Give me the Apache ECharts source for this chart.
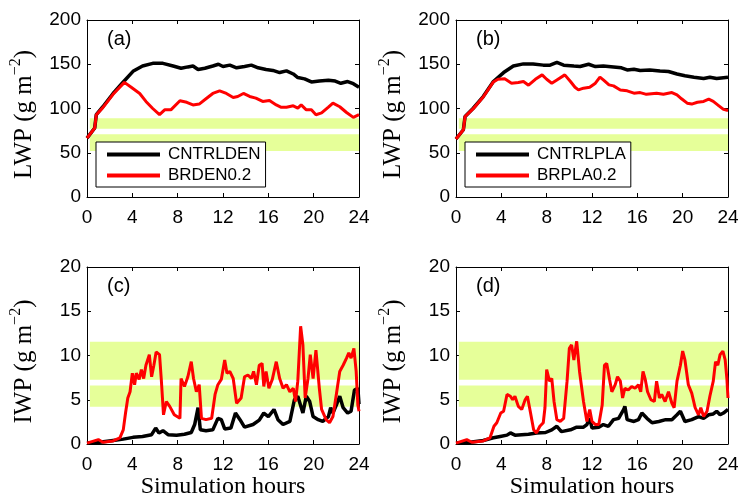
<!DOCTYPE html>
<html><head><meta charset="utf-8">
<script src="https://cdn.jsdelivr.net/npm/echarts@6/dist/echarts.min.js"></script>
<style>html,body{margin:0;padding:0;background:#fff}#c{width:740px;height:495px}</style>
</head><body><div id="c"></div><script>
// ---------- data ----------
const hourTicks = [0, 4, 8, 12, 16, 20, 24];
const lwpBands = [[52, 71], [77, 89]];
const iwpBands = [[4.2, 6.6], [7.25, 11.55]];
const bandStartHour = 0.25;

const lwpCntrlDen = [[0,66.5],[0.68,78],[0.82,93],[1.4,102],[2.3,117],[3.2,130],[4.06,142],[4.9,148],[5.8,151],[6.7,151],[7.6,148],[8.3,145.5],[8.9,147],[9.35,148],[9.8,144],[10.4,145.5],[11.1,148],[11.6,150],[12,147.5],[12.6,149],[13.2,146],[13.9,147.5],[14.5,149],[15.1,146],[15.8,144],[16.4,143],[17,140.6],[17.6,142.5],[18.2,139],[18.6,135],[19.2,133.5],[19.8,130],[20.5,131],[21.3,132],[21.9,131],[22.4,128.5],[23,130.5],[23.5,128],[24,124]];
const lwpBrDen = [[0,66.5],[0.68,78],[0.82,93],[1.4,101],[2.3,116],[3.3,129.5],[3.9,124],[4.65,117],[5.2,108],[5.8,100],[6.4,93],[6.85,98.5],[7.4,98.5],[8.2,108.7],[8.8,107],[9.35,104],[9.9,105],[10.5,111],[11.1,117],[11.7,120],[12.3,117],[12.9,112.5],[13.3,113.6],[13.8,117],[14.35,113.6],[14.9,111.7],[15.5,108],[16.1,109],[16.7,104],[17.1,101.5],[17.6,101.5],[18.2,103],[18.6,100.4],[18.9,104],[19.35,98.5],[19.8,98.5],[20.2,93],[20.7,95],[21.3,101.5],[21.7,106],[22.3,102],[22.9,95.5],[23.5,90],[24,93]];
const lwpCntrlPla = [[0,65.5],[0.65,76],[0.8,91],[1.5,100],[2.4,113.5],[3.3,130.5],[4.2,140.6],[5.06,148],[5.95,150.4],[6.8,150.4],[7.7,149],[8.3,149],[8.9,152],[9.5,149],[10.4,148],[10.95,147.4],[11.7,150],[12.3,147.4],[13,148],[13.9,147],[14.6,146],[15.1,143.6],[15.7,144.4],[16.25,143],[17.1,143.6],[18,142.5],[18.75,141.8],[19.5,139],[20.2,137],[21,135.4],[21.85,134],[22.4,135.4],[23,134],[24,135.4]];
const lwpBrPla = [[0,65.5],[0.65,76],[0.8,91],[1.5,99.5],[2.4,113],[3.3,130],[3.7,133],[4.3,133.5],[4.9,128.6],[5.5,129.3],[5.95,130.5],[6.4,126.3],[7,133],[7.6,138],[8,133],[8.45,128.6],[8.9,132.3],[9.6,138],[10.1,130.5],[10.5,124],[10.8,121],[11.25,123],[11.8,124],[12.3,128.6],[12.7,135.4],[13,132.3],[13.5,126.7],[13.9,125.6],[14.5,121],[15.1,120],[15.7,117.3],[16.25,118],[16.8,116],[17.7,117.3],[18.3,116],[19.05,118],[19.5,115.4],[19.9,111],[20.4,106],[20.8,105],[21.3,107],[21.85,108],[22.3,110.5],[22.7,108],[23.2,103],[23.6,99],[24,97.8]];

const iwpCntrlDen = [[0,0.1],[1.1,0.2],[2.3,0.4],[3.2,0.55],[4.06,0.75],[4.9,0.85],[5.7,1.05],[6.06,1.8],[6.35,1.25],[6.7,1.5],[7.15,1.05],[7.9,1.0],[8.6,1.1],[9.2,1.3],[9.5,2.2],[9.8,4.1],[10,1.6],[10.5,1.5],[11.1,1.6],[11.55,2.9],[11.85,2.75],[12.15,1.7],[12.7,1.8],[13.1,3.5],[13.5,2.75],[13.9,1.9],[14.65,2.2],[15.2,2.7],[15.6,3.5],[16,3.1],[16.5,3.9],[16.85,2.75],[17.3,2.2],[17.9,2.55],[18.3,5.0],[18.6,5.4],[19.05,3.5],[19.35,5.4],[19.65,4.8],[19.95,3.1],[20.4,2.75],[20.8,2.55],[21.3,3.1],[21.5,4.1],[21.7,3.5],[22,4.4],[22.3,5.4],[22.6,4.1],[23,3.5],[23.3,3.7],[23.6,6.1],[23.9,6.3],[24,4.5]];
const iwpBrDen = [[0,0.1],[1.0,0.5],[1.4,0.2],[2.3,0.35],[2.9,0.7],[3.2,1.6],[3.4,3.5],[3.6,5.2],[3.8,5.9],[4.0,8.0],[4.2,6.7],[4.35,8.0],[4.6,7.3],[4.8,8.4],[5.0,7.4],[5.2,8.9],[5.5,10.1],[5.7,7.6],[5.9,8.9],[6.1,10.4],[6.4,10.1],[6.55,7.4],[6.75,3.3],[7.0,4.8],[7.3,4.25],[7.7,3.3],[8.2,2.9],[8.3,7.4],[8.6,6.5],[8.9,7.6],[9.2,9.3],[9.4,7.4],[9.65,5.9],[9.9,6.7],[10.1,2.9],[10.5,2.75],[11,2.9],[11.3,5.6],[11.55,6.7],[11.85,7.3],[12.15,9.5],[12.35,8.0],[12.6,8.2],[12.9,7.4],[13.2,4.6],[13.6,5.2],[13.9,7.6],[14.2,7.8],[14.5,7.4],[14.7,8.2],[14.95,6.7],[15.2,8.9],[15.45,9.1],[15.6,6.5],[15.8,8.2],[16.05,6.3],[16.35,7.3],[16.7,9.3],[17,7.4],[17.3,6.3],[17.6,6.7],[17.9,5.9],[18.2,6.3],[18.4,4.8],[18.6,7.1],[18.85,13.3],[19.05,11.2],[19.25,5.2],[19.5,7.4],[19.7,10.1],[19.95,7.4],[20.2,10.6],[20.5,6.3],[20.7,3.9],[21.1,2.75],[21.4,2.4],[21.7,3.1],[22,5.6],[22.3,8.2],[22.6,8.9],[22.9,9.7],[23.1,10.3],[23.3,9.7],[23.55,10.8],[23.75,8.2],[23.9,4.4],[24,3.7]];
const iwpCntrlPla = [[0,0.1],[1.24,0.2],[2.4,0.4],[3.3,0.7],[3.9,0.85],[4.5,1.0],[4.8,1.25],[5.2,1.0],[5.8,1.05],[6.4,1.1],[7.1,1.25],[7.9,1.3],[8.45,1.6],[8.9,2.0],[9.3,1.4],[10.1,1.6],[10.65,1.9],[11.25,1.9],[11.55,2.2],[11.8,2.9],[12,1.8],[12.6,1.9],[13,2.2],[13.45,2.0],[13.9,2.75],[14.35,2.9],[14.8,3.9],[14.9,4.25],[15.1,2.75],[15.7,2.55],[16.1,2.75],[16.4,3.5],[16.85,2.9],[17.3,2.4],[17.9,2.55],[18.5,2.75],[19.05,2.75],[19.5,3.3],[19.8,3.7],[20.2,2.55],[20.8,2.75],[21.4,3.1],[21.85,2.9],[22.3,3.3],[22.7,3.4],[23,3.7],[23.3,3.3],[23.6,3.5],[24,3.9]];
const iwpBrPla = [[0,0.1],[0.95,0.5],[1.4,0.2],[2.4,0.35],[3.0,0.7],[3.35,2.0],[3.6,2.4],[3.95,3.5],[4.2,3.7],[4.3,3.5],[4.5,5.6],[4.8,5.4],[5.0,5.0],[5.2,5.4],[5.5,4.25],[5.8,3.9],[6.1,5.0],[6.3,5.4],[6.55,3.7],[6.85,1.6],[7.1,1.25],[7.4,2.0],[7.7,2.4],[7.85,4.1],[8.0,8.4],[8.25,7.1],[8.45,7.4],[8.65,4.8],[8.9,2.75],[9.2,2.55],[9.5,2.9],[9.8,7.1],[10.0,10.8],[10.2,11.2],[10.4,9.5],[10.65,11.6],[10.9,8.2],[11.25,4.8],[11.55,2.55],[11.8,3.9],[12,2.55],[12.3,2.2],[12.6,2.2],[12.9,4.4],[13.1,8.9],[13.3,9.1],[13.55,7.3],[13.75,5.9],[14.05,6.7],[14.25,7.6],[14.5,7.1],[14.7,5.2],[14.9,6.3],[15.2,6.1],[15.5,6.5],[15.8,6.3],[16.1,6.7],[16.3,5.9],[16.5,8.2],[16.7,7.3],[16.9,5.9],[17.2,5.0],[17.5,4.8],[17.7,7.1],[17.95,5.2],[18.15,5.6],[18.45,4.8],[18.75,5.9],[19.05,4.6],[19.25,4.1],[19.5,7.1],[19.8,8.9],[20.0,10.5],[20.2,9.5],[20.5,6.7],[20.8,5.75],[21.1,4.1],[21.4,3.3],[21.6,4.1],[21.85,3.1],[22.15,3.7],[22.4,5.4],[22.7,7.1],[22.9,9.3],[23.1,8.9],[23.3,10.1],[23.55,10.5],[23.75,9.5],[23.9,7.4],[24,5.2]];

// ---------- layout / styles ----------
const FONT = 'Liberation Sans';
const SERIF = 'Liberation Serif';
const bandColor = '#e6ff99';
const panels = [
  {left: 87, top: 20, max: 200, step: 50, bands: lwpBands, label: '(a)', k: lwpCntrlDen, r: lwpBrDen, kn: 'CNTRLDEN', rn: 'BRDEN0.2', yname: 'LWP', legend: true},
  {left: 456, top: 20, max: 200, step: 50, bands: lwpBands, label: '(b)', k: lwpCntrlPla, r: lwpBrPla, kn: 'CNTRLPLA', rn: 'BRPLA0.2', yname: 'LWP', legend: true},
  {left: 87, top: 267, max: 20, step: 5, bands: iwpBands, label: '(c)', k: iwpCntrlDen, r: iwpBrDen, kn: 'CNTRLDEN IWP', rn: 'BRDEN0.2 IWP', yname: 'IWP', xname: true},
  {left: 456, top: 267, max: 20, step: 5, bands: iwpBands, label: '(d)', k: iwpCntrlPla, r: iwpBrPla, kn: 'CNTRLPLA IWP', rn: 'BRPLA0.2 IWP', yname: 'IWP', xname: true}
];
const W = 272, H = 177;
const axLine = {show: true, onZero: false, lineStyle: {color: '#000', width: 1}};
const tick = {show: true, inside: true, length: 4, lineStyle: {color: '#000', width: 1}};

const grid = [], xAxis = [], yAxis = [], series = [], graphic = [], legend = [];
panels.forEach((p, i) => {
  grid.push({left: p.left, top: p.top, width: W, height: H, containLabel: false, outerBoundsMode: 'none'});
  xAxis.push({
    type: 'value', gridIndex: i, min: 0, max: 24, interval: 4, position: 'bottom',
    axisLine: axLine, axisTick: tick, splitLine: {show: false},
    axisLabel: {color: '#000', fontFamily: FONT, fontSize: 19, margin: 11, showMinLabel: true, showMaxLabel: true},
    name: p.xname ? 'Simulation hours' : '', nameLocation: 'middle', nameGap: 28,
    nameTextStyle: {fontFamily: SERIF, fontSize: 24, color: '#000'}
  });
  xAxis.push({
    type: 'value', gridIndex: i, min: 0, max: 24, interval: 4, position: 'top',
    axisLine: axLine, axisTick: tick, splitLine: {show: false}, axisLabel: {show: false}
  });
  yAxis.push({
    type: 'value', gridIndex: i, min: 0, max: p.max, interval: p.step, position: 'left',
    axisLine: axLine, axisTick: tick, splitLine: {show: false},
    axisLabel: {color: '#000', fontFamily: FONT, fontSize: 19, margin: 6},
    name: '{n|' + p.yname + ' (g m}{s|\u22122}{e|)}', nameLocation: 'middle', nameGap: 50, nameRotate: 90,
    nameTextStyle: {rich: {
      n: {fontFamily: SERIF, fontSize: 25, color: '#000', lineHeight: 29, verticalAlign: 'bottom'},
      e: {fontFamily: SERIF, fontSize: 25, color: '#000', lineHeight: 29, verticalAlign: 'bottom', padding: [0, 12, 0, 0]},
      s: {fontFamily: SERIF, fontSize: 16, color: '#000', lineHeight: 16, verticalAlign: 'top'}
    }}
  });
  yAxis.push({
    type: 'value', gridIndex: i, min: 0, max: p.max, interval: p.step, position: 'right',
    axisLine: axLine, axisTick: tick, splitLine: {show: false}, axisLabel: {show: false}
  });
  series.push({
    name: 'band' + i, type: 'line', xAxisIndex: 2 * i, yAxisIndex: 2 * i, data: [], z: 1, silent: true,
    markArea: {silent: true, itemStyle: {color: bandColor, opacity: 1}, label: {show: false},
      data: p.bands.map(b => [{xAxis: bandStartHour, yAxis: b[0]}, {xAxis: 24, yAxis: b[1]}])}
  });
  series.push({
    name: p.kn, type: 'line', xAxisIndex: 2 * i, yAxisIndex: 2 * i, data: p.k, z: 2,
    showSymbol: false, symbol: 'none', smooth: false, animation: false,
    itemStyle: {color: '#000'}, lineStyle: {color: '#000', width: 3.5}
  });
  series.push({
    name: p.rn, type: 'line', xAxisIndex: 2 * i, yAxisIndex: 2 * i, data: p.r, z: 3,
    showSymbol: false, symbol: 'none', smooth: false, animation: false,
    itemStyle: {color: '#ff0000'}, lineStyle: {color: '#ff0000', width: 3}
  });
  graphic.push({
    type: 'text', left: p.left + 20, top: p.top + 9,
    style: {text: p.label, fontFamily: FONT, fontSize: 20, fill: '#000'}
  });
  if (p.legend) {
    legend.push({
      data: [p.kn, p.rn], orient: 'vertical', left: p.left + 9, top: p.top + 122,
      icon: 'rect', itemWidth: 53, itemHeight: 4, itemGap: 4,
      padding: [4, 5, 3, 11], borderColor: '#000', borderWidth: 1, backgroundColor: '#fff',
      textStyle: {fontFamily: FONT, fontSize: 17, color: '#000', lineHeight: 17, padding: [0, 0, 0, 3]},
      selectedMode: false
    });
  }
});

const chart = echarts.init(document.getElementById('c'), null, {renderer: 'canvas'});
chart.setOption({animation: false, backgroundColor: '#fff', grid, xAxis, yAxis, series, legend, graphic});
</script></body></html>
